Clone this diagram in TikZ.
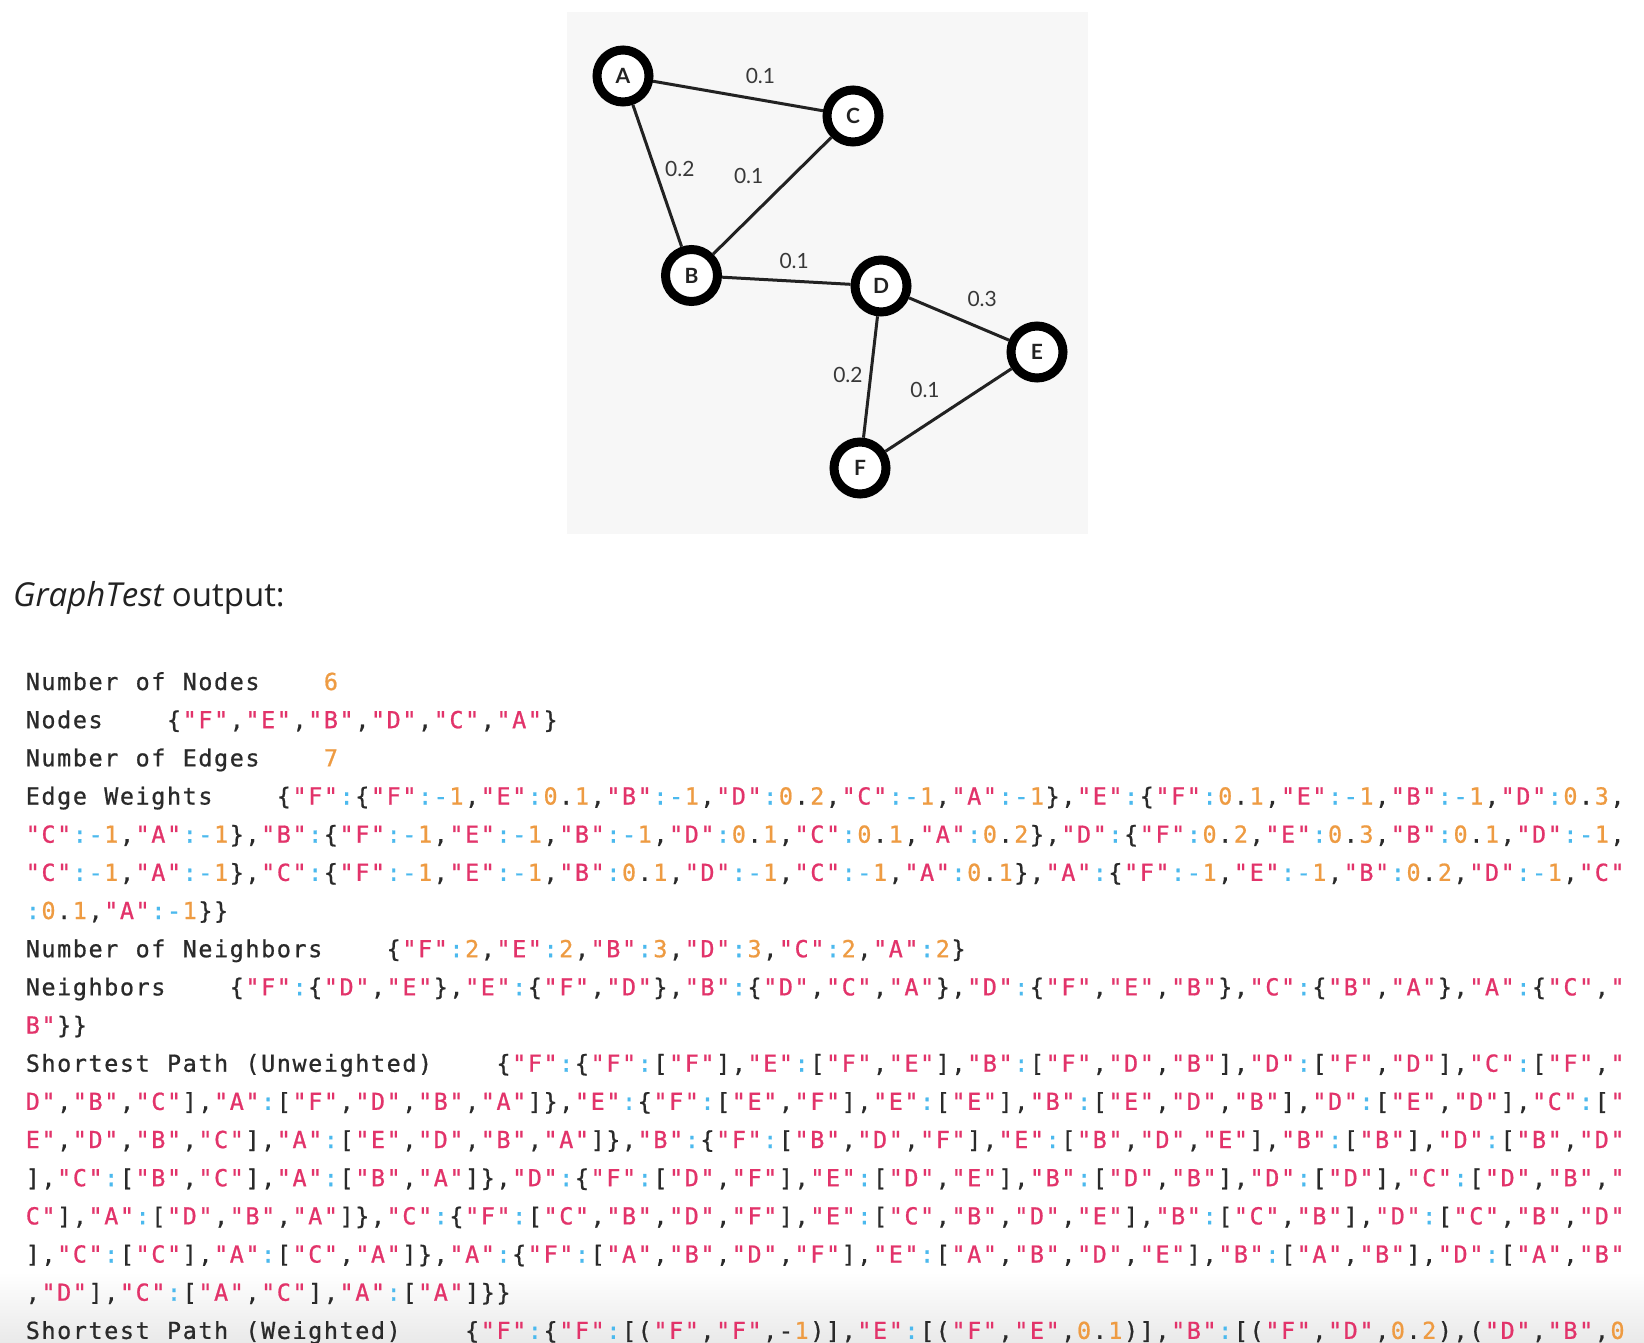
\documentclass[tikz,border=0pt]{standalone}
\usepackage{fontspec}
\newfontfamily\codefont[FakeBold=0.8]{DejaVu Sans Mono}
\newfontfamily\headfont{Open Sans}
\newfontfamily\latofont{Lato}
\definecolor{cstr}{HTML}{E2336A}
\definecolor{cop}{HTML}{4BB9EE}
\definecolor{cnum}{HTML}{EE9B42}
\definecolor{cpun}{HTML}{2A2A2A}
\definecolor{boxgray}{HTML}{F7F7F7}
\definecolor{fadegray}{HTML}{E9E9E9}
\definecolor{ink}{HTML}{222222}
\makeatletter
\newif\ifinstr
\newif\ifdig
\def\q@{"}\def\c@l{:}\def\m@{-}\def\lt@{<}\def\gt@{>}
\def\prev@{}
\newdimen\cw \cw=15.69pt
\def\emitc#1{\makebox[\cw]{\color{#1}\outc}}
\def\chk@digit{\digfalse\ifnum\expandafter`\x>47 \ifnum\expandafter`\x<58 \digtrue\fi\fi}
\def\proc@char{%
  \ifx\x\lt@ \def\outc{\{}\else\ifx\x\gt@ \def\outc{\}}\else\let\outc\x\fi\fi
  \ifinstr
    \emitc{cstr}\ifx\x\q@\global\instrfalse\fi
  \else
    \ifx\x\q@ \emitc{cstr}\global\instrtrue
    \else\ifx\x\c@l \emitc{cop}%
    \else\ifx\x\m@ \ifx\prev@\c@l\emitc{cop}\else\emitc{cpun}\fi
    \else
      \chk@digit
      \ifdig\emitc{cnum}\else\emitc{cpun}\fi
    \fi\fi\fi
  \fi
  \global\let\prev@\x}
\newcommand\codeline[1]{\@tfor\x:=#1\do{\proc@char}}
\makeatother
\tikzset{
  vert/.style={circle,draw=black,line width=9pt,fill=white,minimum size=52pt,inner sep=0pt,
    font=\latofont\bfseries\fontsize{21}{21}\selectfont,text=ink},
  edge/.style={draw=ink,line width=3pt},
  elab/.style={inner sep=0pt,font=\latofont\fontsize{21}{21}\selectfont,text=ink!90},
  codeln/.style={anchor=base west,inner sep=0pt,font=\codefont\fontsize{23.4}{27}\selectfont}
}
\begin{document}
\begin{tikzpicture}[x=1pt,y=-1pt]
\useasboundingbox (0,0) rectangle (1644,1343);
\fill[white] (0,0) rectangle (1644,1343);
\shade[top color=white,bottom color=fadegray] (0,1272) rectangle (1644,1343);
% graph panel
\fill[boxgray] (567,12) rectangle (1088,534);
\node[vert] (A) at (623,76) {A};
\node[vert] (C) at (853,116) {C};
\node[vert] (B) at (691.5,275.5) {B};
\node[vert] (D) at (881,286) {D};
\node[vert] (E) at (1037,352) {E};
\node[vert] (F) at (860,468) {F};
\draw[edge] (A) -- (C);
\draw[edge] (A) -- (B);
\draw[edge] (B) -- (C);
\draw[edge] (B) -- (D);
\draw[edge] (D) -- (E);
\draw[edge] (D) -- (F);
\draw[edge] (E) -- (F);
\node[elab] (lAC) at (760.4,76.4) {0.1};
\node[elab] (lAB) at (679.8,169.4) {0.2};
\node[elab] (lBC) at (748.7,175.6) {0.1};
\node[elab] (lBD) at (794.2,260.7) {0.1};
\node[elab] (lDE) at (982.2,298.9) {0.3};
\node[elab] (lDF) at (847.9,374.7) {0.2};
\node[elab] (lEF) at (925,389.8) {0.1};
% heading
\node[anchor=base west,inner sep=0pt,font=\headfont\fontsize{33}{40}\selectfont,text=ink] (head) at (13,606) {\itshape GraphTest\upshape{} output:};
% output lines
\node[codeln] (l1) at (24.8,690.00) {\codeline{Number~of~Nodes~~~~6}};
\node[codeln] (l2) at (24.8,728.17) {\codeline{Nodes~~~~<"F","E","B","D","C","A">}};
\node[codeln] (l3) at (24.8,766.34) {\codeline{Number~of~Edges~~~~7}};
\node[codeln] (l4) at (24.8,804.51) {\codeline{Edge~Weights~~~~<"F":<"F":-1,"E":0.1,"B":-1,"D":0.2,"C":-1,"A":-1>,"E":<"F":0.1,"E":-1,"B":-1,"D":0.3,}};
\node[codeln] (l5) at (24.8,842.68) {\codeline{"C":-1,"A":-1>,"B":<"F":-1,"E":-1,"B":-1,"D":0.1,"C":0.1,"A":0.2>,"D":<"F":0.2,"E":0.3,"B":0.1,"D":-1,}};
\node[codeln] (l6) at (24.8,880.85) {\codeline{"C":-1,"A":-1>,"C":<"F":-1,"E":-1,"B":0.1,"D":-1,"C":-1,"A":0.1>,"A":<"F":-1,"E":-1,"B":0.2,"D":-1,"C"}};
\node[codeln] (l7) at (24.8,919.02) {\codeline{:0.1,"A":-1>>}};
\node[codeln] (l8) at (24.8,957.19) {\codeline{Number~of~Neighbors~~~~<"F":2,"E":2,"B":3,"D":3,"C":2,"A":2>}};
\node[codeln] (l9) at (24.8,995.36) {\codeline{Neighbors~~~~<"F":<"D","E">,"E":<"F","D">,"B":<"D","C","A">,"D":<"F","E","B">,"C":<"B","A">,"A":<"C","}};
\node[codeln] (l10) at (24.8,1033.53) {\codeline{B">>}};
\node[codeln] (l11) at (24.8,1071.70) {\codeline{Shortest~Path~(Unweighted)~~~~<"F":<"F":["F"],"E":["F","E"],"B":["F","D","B"],"D":["F","D"],"C":["F","}};
\node[codeln] (l12) at (24.8,1109.87) {\codeline{D","B","C"],"A":["F","D","B","A"]>,"E":<"F":["E","F"],"E":["E"],"B":["E","D","B"],"D":["E","D"],"C":["}};
\node[codeln] (l13) at (24.8,1148.04) {\codeline{E","D","B","C"],"A":["E","D","B","A"]>,"B":<"F":["B","D","F"],"E":["B","D","E"],"B":["B"],"D":["B","D"}};
\node[codeln] (l14) at (24.8,1186.21) {\codeline{],"C":["B","C"],"A":["B","A"]>,"D":<"F":["D","F"],"E":["D","E"],"B":["D","B"],"D":["D"],"C":["D","B","}};
\node[codeln] (l15) at (24.8,1224.38) {\codeline{C"],"A":["D","B","A"]>,"C":<"F":["C","B","D","F"],"E":["C","B","D","E"],"B":["C","B"],"D":["C","B","D"}};
\node[codeln] (l16) at (24.8,1262.55) {\codeline{],"C":["C"],"A":["C","A"]>,"A":<"F":["A","B","D","F"],"E":["A","B","D","E"],"B":["A","B"],"D":["A","B"}};
\node[codeln] (l17) at (24.8,1300.72) {\codeline{,"D"],"C":["A","C"],"A":["A"]>>}};
\node[codeln] (l18) at (24.8,1338.89) {\codeline{Shortest~Path~(Weighted)~~~~<"F":<"F":[("F","F",-1)],"E":[("F","E",0.1)],"B":[("F","D",0.2),("D","B",0}};
\end{tikzpicture}
\end{document}
